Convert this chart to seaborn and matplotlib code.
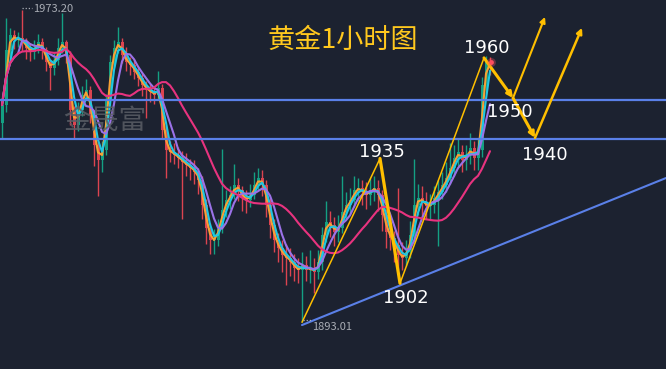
import numpy as np
import pandas as pd
import matplotlib
matplotlib.use("Agg")
import matplotlib.pyplot as plt
import seaborn as sns

bg = "#1c2230"
sns.set_style("dark", {"axes.facecolor": bg, "figure.facecolor": bg})
plt.rcParams['font.family'] = ['Noto Sans CJK SC', 'DejaVu Sans']

# --- 1h gold candles ---
first_open = 1944.0
closes = [
    1948.7, 1962.8, 1966.7, 1965.4, 1965.9, 1964.9, 1963.3, 1962.3, 1963.3, 1964.9,
    1962.8, 1959.7, 1958.2, 1960.3, 1963.3, 1964.9, 1961.5, 1947.4, 1943.6, 1947.4,
    1951.3, 1952.6, 1946.2, 1938.5, 1934.6, 1937.2, 1950.0, 1959.7, 1963.3, 1964.9,
    1961.5, 1959.7, 1959.0, 1957.2, 1955.6, 1953.8, 1952.6, 1952.1, 1951.3, 1953.1,
    1942.3, 1937.2, 1936.7, 1935.9, 1935.1, 1934.1, 1933.3, 1932.6, 1931.5, 1929.5,
    1923.1, 1917.2, 1914.1, 1914.1, 1917.9, 1921.8, 1924.4, 1925.6, 1928.2, 1926.9,
    1924.9, 1924.4, 1925.6, 1928.2, 1930.0, 1928.2, 1923.1, 1917.9, 1914.1, 1912.1,
    1910.3, 1909.5, 1908.5, 1906.9, 1906.4, 1907.7, 1906.4, 1906.9, 1905.9, 1908.5,
    1915.4, 1918.7, 1917.9, 1916.2, 1917.2, 1921.3, 1923.1, 1924.4, 1926.9, 1927.4,
    1926.4, 1925.6, 1926.9, 1927.4, 1925.6, 1920.5, 1916.2, 1914.6, 1912.8, 1910.3,
    1909.5, 1911.0, 1915.4, 1923.1, 1924.9, 1923.8, 1922.8, 1923.1, 1924.9, 1926.4,
    1928.2, 1930.0, 1932.6, 1935.1, 1936.7, 1934.6, 1935.9, 1937.7, 1935.1, 1937.2,
    1953.8, 1959.7, 1959.0]
highs = [
    1951.0, 1971.0, 1968.5, 1968.0, 1967.5, 1973.2, 1966.0, 1964.5, 1965.5, 1967.0,
    1966.0, 1963.5, 1960.5, 1962.0, 1966.0, 1972.3, 1965.5, 1962.5, 1948.5, 1949.5,
    1953.5, 1955.5, 1953.5, 1947.0, 1940.0, 1939.5, 1951.5, 1961.5, 1965.5, 1968.8,
    1966.0, 1963.5, 1961.0, 1960.5, 1958.5, 1957.0, 1955.0, 1954.0, 1953.5, 1957.5,
    1954.0, 1943.5, 1939.5, 1939.0, 1938.0, 1937.0, 1936.5, 1935.0, 1934.5, 1932.5,
    1930.5, 1924.5, 1918.5, 1917.0, 1919.5, 1937.5, 1927.0, 1928.0, 1933.5, 1930.0,
    1928.0, 1927.0, 1928.5, 1931.5, 1932.5, 1932.0, 1929.5, 1925.0, 1919.5, 1916.0,
    1914.0, 1913.0, 1912.0, 1910.5, 1909.5, 1911.0, 1910.0, 1911.5, 1909.5, 1911.5,
    1917.5, 1924.0, 1921.5, 1920.0, 1920.5, 1930.5, 1926.5, 1927.5, 1930.5, 1930.0,
    1929.5, 1929.0, 1930.0, 1930.5, 1929.5, 1927.0, 1922.0, 1918.5, 1916.5, 1927.5,
    1913.5, 1914.0, 1919.0, 1935.0, 1928.5, 1928.0, 1926.5, 1926.0, 1928.0, 1929.5,
    1931.5, 1934.0, 1939.0, 1938.5, 1940.0, 1938.5, 1938.5, 1941.5, 1939.5, 1940.0,
    1956.0, 1961.2, 1961.0]
lows = [
    1940.0, 1947.0, 1961.0, 1963.0, 1963.5, 1962.5, 1960.5, 1960.0, 1960.5, 1962.0,
    1960.5, 1957.5, 1952.5, 1956.5, 1959.0, 1962.0, 1959.5, 1943.5, 1940.0, 1942.0,
    1946.0, 1950.0, 1944.0, 1933.0, 1925.5, 1931.5, 1936.0, 1948.5, 1958.5, 1962.0,
    1959.5, 1957.5, 1956.5, 1955.5, 1953.5, 1951.0, 1945.5, 1949.5, 1949.0, 1950.0,
    1940.0, 1930.0, 1934.0, 1933.5, 1932.5, 1919.5, 1930.5, 1929.5, 1928.5, 1926.0,
    1919.5, 1913.0, 1910.5, 1910.5, 1912.5, 1916.0, 1920.0, 1922.0, 1924.5, 1924.0,
    1921.5, 1921.0, 1922.5, 1924.5, 1927.0, 1925.5, 1920.0, 1914.5, 1911.0, 1908.5,
    1906.0, 1902.5, 1905.0, 1903.5, 1903.0, 1893.01, 1903.5, 1903.0, 1900.5, 1904.0,
    1906.5, 1913.5, 1915.0, 1912.5, 1913.5, 1916.0, 1919.5, 1921.0, 1922.5, 1924.0,
    1923.0, 1922.0, 1923.0, 1924.0, 1921.5, 1916.5, 1912.0, 1911.5, 1908.5, 1906.5,
    1906.5, 1907.5, 1909.5, 1913.5, 1920.5, 1920.0, 1919.5, 1919.5, 1921.0, 1912.5,
    1924.5, 1926.5, 1928.5, 1930.5, 1933.0, 1931.5, 1932.0, 1933.5, 1932.0, 1932.0,
    1935.5, 1951.5, 1956.5]

ma_periods = [2, 3, 5, 16]

# --- analysis marks ---
resist_levels = [1950, 1940]
trend_x = [75, 166]
trend_y = [1892.3, 1930.0]
wave_x = [75, 94.5, 99.5, 120.5]
wave_y = [1893.01, 1935.0, 1903.0, 1960.8]
proj_a_x = [120.5, 127.75, 135.75]
proj_a_y = [1960.8, 1950.5, 1971.3]
proj_b_x = [127.75, 133.25, 145.0]
proj_b_y = [1950.5, 1940.3, 1968.5]
label_text = ["1960", "1950", "1940", "1935", "1902"]
label_x = [121.25, 127.0, 135.75, 95.0, 101.0]
label_y = [1963.3, 1946.9, 1935.9, 1936.7, 1899.2]
hi_label, hi_x, hi_y = "1973.20", 5, 1973.2
lo_label, lo_x, lo_y = "1893.01", 75, 1893.01
peak_dot = (122.2, 1959.8)

up_col, dn_col = "#14a083", "#dc4450"
gold = "#ffbf00"
blue = "#5a80e8"
ma_palette = {"MA2": "#f7a035", "MA3": "#1fc8e3", "MA5": "#9b72e8", "MA16": "#e8337f"}

fig = plt.figure(figsize=(6.66, 3.69), dpi=100)
ax = fig.add_axes([0, 0, 1, 1])
ax.set_facecolor(bg)

idx = np.arange(len(closes))
c = np.array(closes)
o = np.array([first_open] + closes[:-1])
cols = np.where(c >= o, up_col, dn_col)

# watermark under everything
fig.text(105 / 666, 1 - 121 / 369, "金晟富", color="#5a5e66", fontsize=20,
         ha="center", va="center", alpha=0.85, zorder=0)

ax.vlines(idx, lows, highs, colors=cols, lw=1.0, zorder=2)
body = np.maximum(np.abs(c - o), 0.35)
ax.bar(idx, body, bottom=np.minimum(o, c), width=0.75, color=cols, zorder=2, linewidth=0)

df = pd.DataFrame({"i": idx, "close": c})
for p in ma_periods:
    df[f"MA{p}"] = df["close"].rolling(p, min_periods=1).mean()
long = df.melt(id_vars="i", value_vars=[f"MA{p}" for p in ma_periods], var_name="ma", value_name="v")
sns.lineplot(data=long, x="i", y="v", hue="ma", palette=ma_palette, lw=1.5,
             legend=False, ax=ax, zorder=3, sort=False)

for lv in resist_levels:
    ax.axhline(lv, color=blue, lw=1.6, zorder=4)
ax.plot(trend_x, trend_y, color=blue, lw=1.5, zorder=4)

ax.plot(wave_x[0:2], wave_y[0:2], color=gold, lw=1.1, zorder=5)
ax.plot(wave_x[1:3], wave_y[1:3], color=gold, lw=2.3, zorder=5)
ax.plot(wave_x[2:4], wave_y[2:4], color=gold, lw=1.1, zorder=5)


def arrow(x0, y0, x1, y1, lw):
    ax.annotate("", xy=(x1, y1), xytext=(x0, y0),
                arrowprops=dict(arrowstyle="-|>", color=gold, lw=lw, mutation_scale=8,
                                shrinkA=0, shrinkB=0), zorder=5)


arrow(proj_a_x[0], proj_a_y[0], proj_a_x[1], proj_a_y[1], 2.2)
arrow(proj_a_x[1], proj_a_y[1], proj_a_x[2], proj_a_y[2], 1.5)
arrow(proj_b_x[0], proj_b_y[0], proj_b_x[1], proj_b_y[1], 2.2)
arrow(proj_b_x[1], proj_b_y[1], proj_b_x[2], proj_b_y[2], 1.8)

ax.scatter([peak_dot[0]], [peak_dot[1]], s=40, color="#ff4d5e", alpha=0.35, zorder=6, linewidths=0)
ax.scatter([peak_dot[0]], [peak_dot[1]], s=12, color="#ff4d5e", zorder=6, linewidths=0)

for t, x, y in zip(label_text, label_x, label_y):
    ax.text(x, y, t, color="white", fontsize=13, ha="center", va="center", zorder=7,
            family=["DejaVu Sans"])

gray = "#a9adb5"
ax.plot([hi_x, hi_x + 2.4], [hi_y + 0.3] * 2, color=gray, lw=0.9, ls=(0, (1, 1.5)), zorder=7)
ax.text(hi_x + 2.7, hi_y + 0.2, hi_label, color=gray, fontsize=8, ha="left", va="center", zorder=7)
ax.plot([lo_x + 0.3, lo_x + 2.2], [lo_y + 0.6] * 2, color=gray, lw=0.9, ls=(0, (1, 1.5)), zorder=7)
ax.text(lo_x + 2.5, lo_y - 1.3, lo_label, color=gray, fontsize=8, ha="left", va="center", zorder=7)

ax.text(343 / 666, 1 - 40 / 369, "黄金1小时图", transform=ax.transAxes, color="#ffc81e",
        fontsize=19.5, ha="center", va="center", zorder=7)

ax.set_xlim(-0.5, 166)
ax.set_ylim(1881.03, 1975.64)
ax.set_xticks([])
ax.set_yticks([])
ax.set_xlabel("")
ax.set_ylabel("")
for s in ax.spines.values():
    s.set_visible(False)

fig.savefig("out.png", dpi=100, facecolor=bg)
